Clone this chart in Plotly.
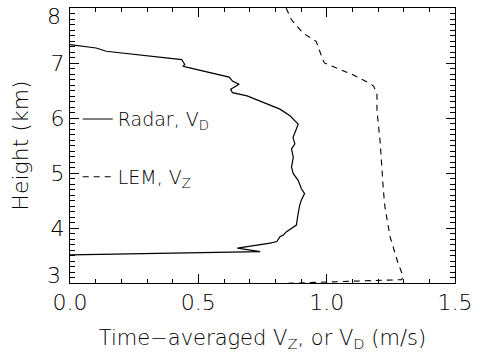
import plotly.graph_objects as go

# Time-averaged fall speed profiles (velocity in m/s, height in km)
radar_vd = [0.0, 0.102, 0.141, 0.435, 0.447, 0.441, 0.454, 0.620, 0.633, 0.659,
            0.626, 0.633, 0.690, 0.767, 0.818, 0.857, 0.889, 0.882, 0.869, 0.876,
            0.863, 0.870, 0.863, 0.870, 0.889, 0.901, 0.914, 0.901, 0.895, 0.889,
            0.882, 0.844, 0.831, 0.818, 0.806, 0.780, 0.652, 0.741, 0.0]
radar_height = [7.334, 7.273, 7.213, 7.063, 6.973, 6.942, 6.924, 6.744, 6.671, 6.612,
                6.522, 6.460, 6.401, 6.251, 6.161, 6.040, 5.890, 5.800, 5.648, 5.529,
                5.439, 5.287, 5.107, 4.987, 4.866, 4.717, 4.626, 4.505, 4.415, 4.265,
                4.054, 3.933, 3.874, 3.843, 3.753, 3.724, 3.634, 3.572, 3.513]

lem_vz = [0.842, 0.863, 0.908, 0.959, 0.985, 0.991, 1.036, 1.100, 1.163, 1.183,
          1.196, 1.196, 1.208, 1.215, 1.221, 1.227, 1.247, 1.278, 1.298, 1.292,
          0.895, 0.850]
lem_height = [8.0, 7.785, 7.543, 7.394, 7.063, 7.002, 6.912, 6.792, 6.641, 6.581,
              6.431, 6.130, 5.588, 4.987, 4.686, 4.384, 3.843, 3.363, 3.121, 3.061,
              3.002, 2.995]

# y labels at the two ends of the axis are nudged inward
y_end_labels = {3: "3", 8: "8"}

FONT = "DejaVu Sans"
TICK_FONT = dict(family=FONT, size=22, color="black", weight=200)

fig = go.Figure()
fig.add_trace(go.Scatter(x=radar_vd, y=radar_height, mode="lines",
                         name="Radar, V<sub>D</sub>", legendgroup="radar",
                         line=dict(color="black", width=1.2)))
fig.add_trace(go.Scatter(x=lem_vz, y=lem_height, mode="lines",
                         name="LEM, V<sub>Z</sub>", legendgroup="lem",
                         line=dict(color="black", width=1.1, dash="6px,5px")))

for yv, txt in y_end_labels.items():
    fig.add_annotation(x=0, xref="paper", y=yv, yref="y", text=txt, showarrow=False,
                       xanchor="right", yanchor="middle", xshift=-7,
                       yshift=8 if yv == 3 else -8, font=TICK_FONT)

fig.update_xaxes(range=[0, 1.5], showline=True, linecolor="black", mirror="allticks",
                 ticks="inside", ticklen=9, tickcolor="black", tickwidth=1.3,
                 minor=dict(ticks="inside", dtick=0.1, ticklen=4, tickcolor="black"),
                 dtick=0.5, tick0=0, tickformat=".1f", tickfont=TICK_FONT,
                 title=dict(text="Time\u2212averaged V<sub>Z</sub>, or V<sub>D</sub> (m/s)",
                            font=dict(family=FONT, size=21, color="black", weight=200)))
fig.update_yaxes(range=[3, 8], showline=True, linecolor="black", mirror="allticks",
                 ticks="inside", ticklen=9, tickcolor="black", tickwidth=1.3,
                 minor=dict(ticks="inside", dtick=0.1, ticklen=5, tickcolor="black"),
                 tickvals=[3, 4, 5, 6, 7, 8], ticktext=["", "4", "5", "6", "7", ""],
                 tickfont=TICK_FONT,
                 title=dict(text="Height (km)",
                            font=dict(family=FONT, size=22, color="black", weight=200)))

fig.update_layout(width=480, height=358, margin=dict(l=70, r=19, t=7, b=75),
                  plot_bgcolor="white",
                  legend=dict(x=0.02, y=0.665, xanchor="left", yanchor="top",
                              bgcolor="rgba(0,0,0,0)", tracegroupgap=30,
                              font=dict(family=FONT, size=19, color="black", weight=200)))

fig.write_html("out.html")
